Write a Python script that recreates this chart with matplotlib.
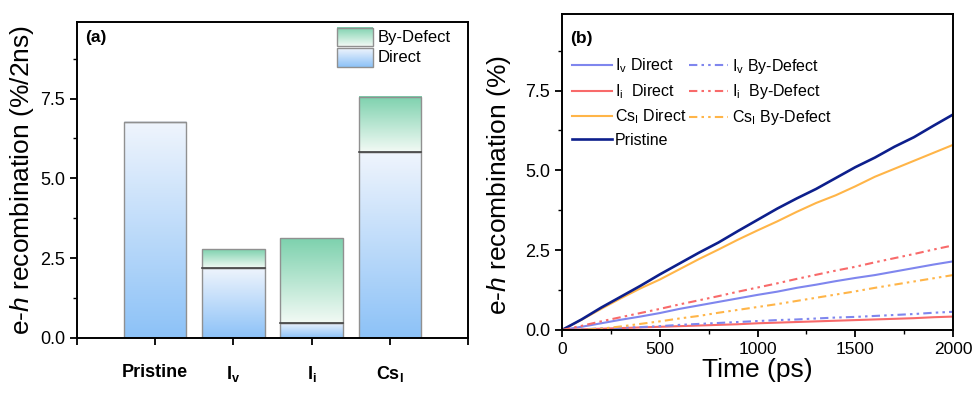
import numpy as np
import matplotlib
matplotlib.use('Agg')
import matplotlib.pyplot as plt

plt.rcParams['font.family'] = ['Liberation Sans', 'DejaVu Sans']
plt.rcParams['mathtext.fontset'] = 'custom'
plt.rcParams['mathtext.rm'] = 'Liberation Sans'
plt.rcParams['mathtext.it'] = 'Liberation Sans:italic'
plt.rcParams['mathtext.bf'] = 'Liberation Sans:bold'

# Panel (a) data
categories = [r'Pristine', r'I$_\mathbf{v}$', r'I$_\mathbf{i}$', r'Cs$_\mathbf{I}$']
direct = [6.77, 2.20, 0.47, 5.83]
by_defect = [0.0, 0.58, 2.66, 1.73]

# Panel (b) data
time_ps = [0, 100, 200, 300, 400, 500, 600, 700, 800, 900, 1000,
           1100, 1200, 1300, 1400, 1500, 1600, 1700, 1800, 1900, 2000]
pristine = [0, 0.33, 0.70, 1.04, 1.38, 1.74, 2.08, 2.42, 2.74, 3.10, 3.45,
            3.80, 4.12, 4.42, 4.76, 5.10, 5.40, 5.74, 6.04, 6.40, 6.75]
cs_direct = [0, 0.32, 0.66, 0.99, 1.30, 1.58, 1.90, 2.22, 2.52, 2.83, 3.12,
             3.40, 3.70, 3.98, 4.22, 4.50, 4.80, 5.05, 5.30, 5.55, 5.80]
ii_defect = [0, 0.13, 0.27, 0.40, 0.53, 0.66, 0.80, 0.93, 1.06, 1.20, 1.33,
             1.46, 1.60, 1.73, 1.86, 1.98, 2.12, 2.25, 2.38, 2.52, 2.65]
iv_direct = [0, 0.10, 0.21, 0.32, 0.42, 0.53, 0.66, 0.77, 0.88, 0.99, 1.10,
             1.20, 1.32, 1.42, 1.53, 1.63, 1.72, 1.83, 1.94, 2.05, 2.15]
cs_defect = [0, 0.01, 0.04, 0.11, 0.19, 0.27, 0.36, 0.44, 0.54, 0.63, 0.72,
             0.81, 0.91, 1.01, 1.11, 1.21, 1.32, 1.42, 1.52, 1.62, 1.72]
iv_defect = [0, 0.02, 0.05, 0.07, 0.09, 0.12, 0.16, 0.19, 0.22, 0.25, 0.28,
             0.31, 0.33, 0.36, 0.39, 0.41, 0.44, 0.47, 0.50, 0.54, 0.57]
ii_direct = [0, 0.02, 0.04, 0.06, 0.08, 0.10, 0.12, 0.14, 0.16, 0.18, 0.21,
             0.23, 0.25, 0.27, 0.29, 0.31, 0.33, 0.35, 0.37, 0.40, 0.42]

c_iv = '#7f86ee'
c_ii = '#f86a6a'
c_cs = '#ffb548'
c_pr = '#0d1f8c'
dashdot = (0, (4, 2, 1.2, 2, 1.2, 2))


def gradient(bottom_rgb, top_rgb, n=256):
    t = np.linspace(0, 1, n)[:, None]
    b = np.array(bottom_rgb)[None, :]
    tp = np.array(top_rgb)[None, :]
    g = b + (tp - b) * t
    return g[:, None, :]


blue_grad = gradient((0.55, 0.76, 0.97), (0.94, 0.96, 0.99))
green_grad = gradient((0.95, 0.98, 0.96), (0.49, 0.82, 0.68))

fig = plt.figure(figsize=(9.72, 3.96), dpi=100)
ax1 = fig.add_axes([0.0792, 0.1465, 0.4023, 0.798])
ax2 = fig.add_axes([0.5782, 0.1667, 0.4023, 0.798])

# ---- panel (a): stacked bars with gradient fill
x = np.arange(1, len(categories) + 1)
width = 0.8
for xi, d, bd in zip(x, direct, by_defect):
    ax1.imshow(blue_grad, extent=[xi - width / 2, xi + width / 2, 0, d],
               origin='lower', aspect='auto', zorder=1)
    if bd > 0:
        ax1.imshow(green_grad, extent=[xi - width / 2, xi + width / 2, d, d + bd],
                   origin='lower', aspect='auto', zorder=1)
ax1.bar(x, direct, width, facecolor='none', edgecolor='#909090', linewidth=1.0, zorder=2)
ax1.bar(x, by_defect, width, bottom=direct, facecolor='none', edgecolor='#909090',
        linewidth=1.0, zorder=2)
for xi, d, bd in zip(x, direct, by_defect):
    if bd > 0:
        ax1.plot([xi - width / 2, xi + width / 2], [d, d], color='#444444', lw=1.2, zorder=3)

ax1.set_xticks([0, 1, 2, 3, 4, 5])
ax1.set_xticklabels([''] + categories + [''], fontsize=13, fontweight='bold')
ax1.set_yticks([0, 2.5, 5.0, 7.5])
ax1.set_yticks([1.25, 3.75, 6.25, 8.75], minor=True)
ax1.tick_params(axis='x', direction='out', length=5, width=1.3, pad=14)
ax1.tick_params(axis='y', which='major', direction='out', length=5, width=1.3, labelsize=13)
ax1.tick_params(axis='y', which='minor', direction='out', length=3, width=1.0)
ax1.set_ylabel(r'e-$h$ recombination (%/2ns)', fontsize=19, labelpad=3)
ax1.text(0.02, 0.975, '(a)', transform=ax1.transAxes, fontsize=12.5, fontweight='bold',
         va='top', ha='left')

# legend for gradients drawn by hand in axes coords
ax1.imshow(green_grad, extent=[0.665, 0.757, 0.924, 0.981], transform=ax1.transAxes,
           origin='lower', aspect='auto', zorder=4)
ax1.imshow(blue_grad, extent=[0.665, 0.757, 0.858, 0.918], transform=ax1.transAxes,
           origin='lower', aspect='auto', zorder=4)
for y0, y1 in [(0.924, 0.981), (0.858, 0.918)]:
    ax1.add_patch(plt.Rectangle((0.665, y0), 0.092, y1 - y0, transform=ax1.transAxes,
                                fill=False, edgecolor='#909090', lw=1.0, zorder=5))
ax1.text(0.77, 0.952, 'By-Defect', transform=ax1.transAxes, fontsize=12, va='center')
ax1.text(0.77, 0.887, 'Direct', transform=ax1.transAxes, fontsize=12, va='center')
ax1.set_xlim(0, 5)
ax1.set_ylim(0, 9.9)

# ---- panel (b): recombination vs time
l_ivd, = ax2.plot(time_ps, iv_direct, color=c_iv, lw=1.5, label=r'I$_\mathregular{v}$ Direct')
l_iid, = ax2.plot(time_ps, ii_direct, color=c_ii, lw=1.5, label=r'I$_\mathregular{i}$  Direct')
l_csd, = ax2.plot(time_ps, cs_direct, color=c_cs, lw=1.5, label=r'Cs$_\mathregular{I}$ Direct')
l_pr, = ax2.plot(time_ps, pristine, color=c_pr, lw=1.9, label='Pristine')
l_ivb, = ax2.plot(time_ps, iv_defect, color=c_iv, lw=1.5, ls=dashdot,
                  label=r'I$_\mathregular{v}$ By-Defect')
l_iib, = ax2.plot(time_ps, ii_defect, color=c_ii, lw=1.5, ls=dashdot,
                  label=r'I$_\mathregular{i}$  By-Defect')
l_csb, = ax2.plot(time_ps, cs_defect, color=c_cs, lw=1.5, ls=dashdot,
                  label=r'Cs$_\mathregular{I}$ By-Defect')

ax2.set_xlim(0, 2000)
ax2.set_ylim(0, 9.9)
ax2.set_xticks([0, 500, 1000, 1500, 2000])
ax2.set_xticks([250, 750, 1250, 1750], minor=True)
ax2.set_yticks([0, 2.5, 5.0, 7.5])
ax2.set_yticks([1.25, 3.75, 6.25, 8.75], minor=True)
ax2.tick_params(which='major', direction='out', length=5, width=1.3, labelsize=12.5)
ax2.tick_params(axis='y', which='major', labelsize=13)
ax2.tick_params(which='minor', direction='out', length=3, width=1.0)
ax2.set_xlabel('Time (ps)', fontsize=19, labelpad=1)
ax2.set_ylabel(r'e-$h$ recombination (%)', fontsize=19, labelpad=3)
ax2.yaxis.set_label_coords(-0.125, 0.46)
ax2.text(0.02, 0.945, '(b)', transform=ax2.transAxes, fontsize=12.5, fontweight='bold',
         va='top', ha='left')
ax2.legend(handles=[l_ivd, l_iid, l_csd, l_pr, l_ivb, l_iib, l_csb], ncol=2,
           loc='upper left', bbox_to_anchor=(0.0, 0.895), frameon=False, fontsize=11.5,
           handlelength=2.5, handletextpad=0.2, columnspacing=0.15, labelspacing=0.42,
           borderaxespad=0.2)

for ax in (ax1, ax2):
    for s in ax.spines.values():
        s.set_linewidth(1.4)

fig.savefig('out.png', dpi=100)
